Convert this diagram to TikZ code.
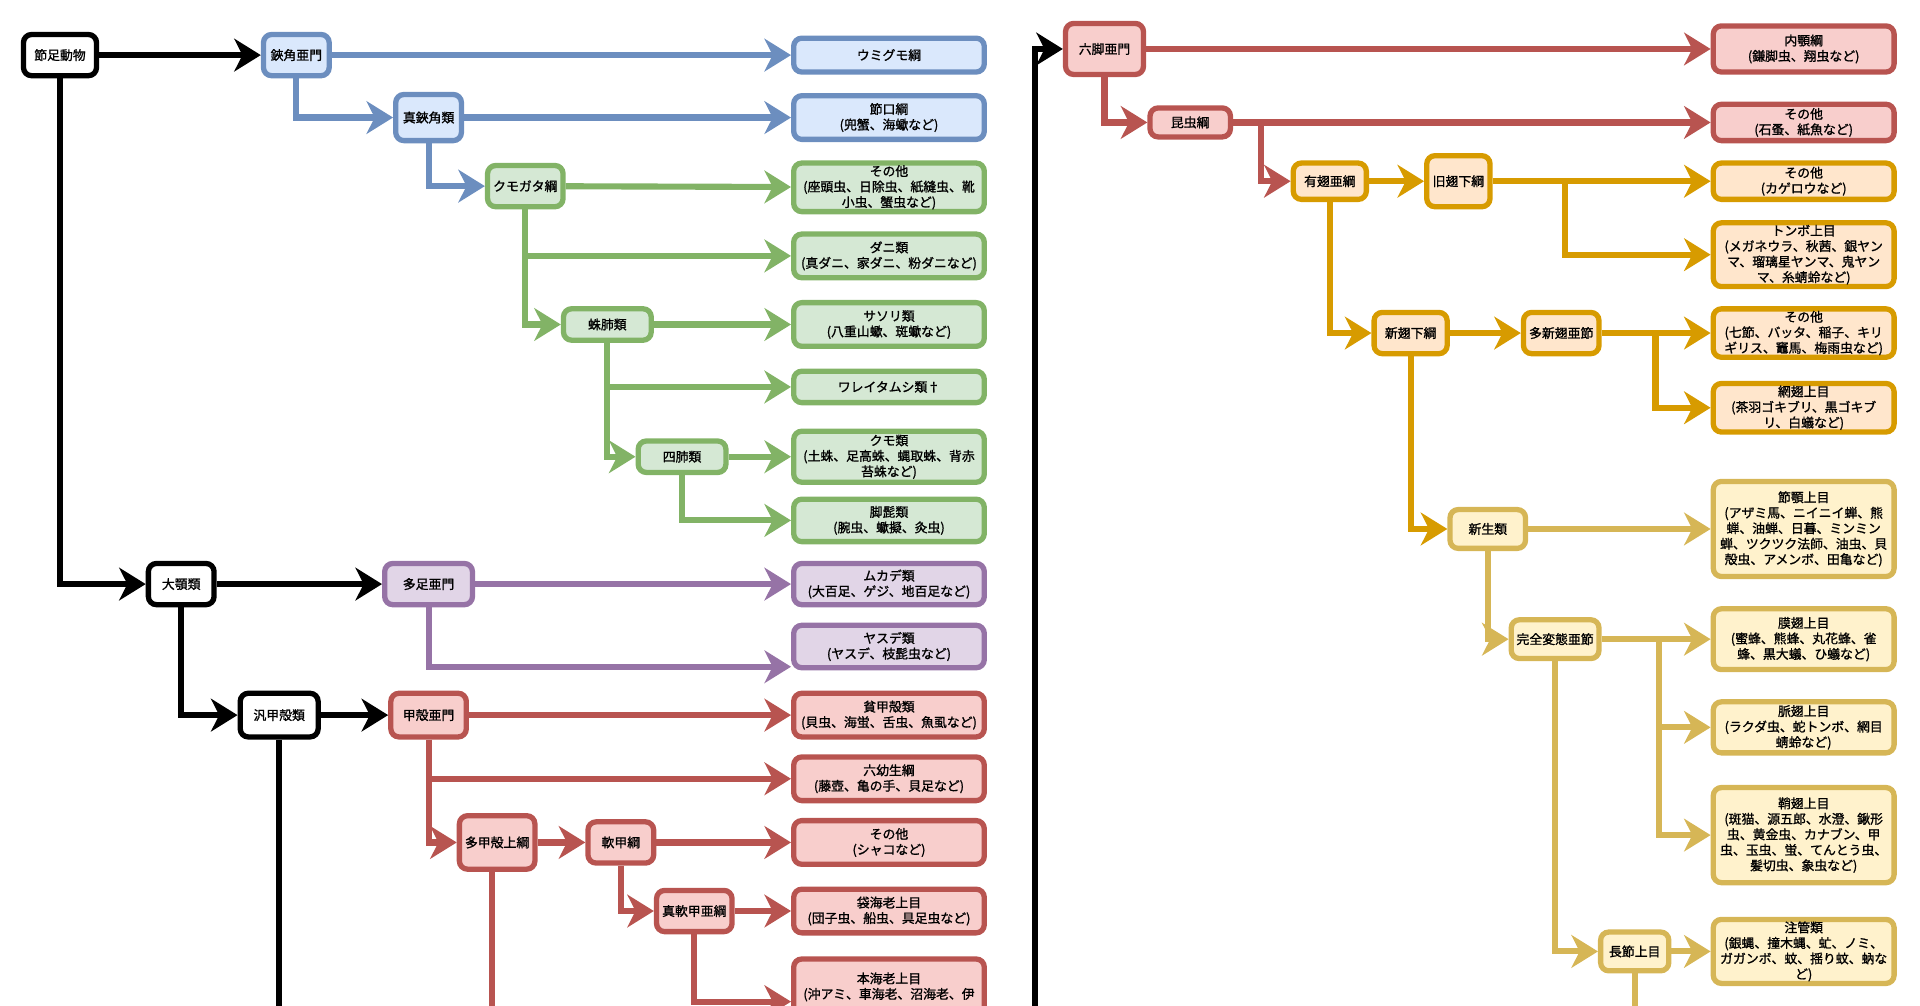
\documentclass[tikz,border=0pt]{standalone}
\usepackage{fontspec}
\setmainfont{Noto Sans CJK JP}[FakeBold=1.2]
\usetikzlibrary{arrows.meta,calc}
\definecolor{bS}{HTML}{6C8EBF}\definecolor{bF}{HTML}{DAE8FC}
\definecolor{gS}{HTML}{82B366}\definecolor{gF}{HTML}{D5E8D4}
\definecolor{pS}{HTML}{9673A6}\definecolor{pF}{HTML}{E1D5E7}
\definecolor{rS}{HTML}{B85450}\definecolor{rF}{HTML}{F8CECC}
\definecolor{oS}{HTML}{D79B00}\definecolor{oF}{HTML}{FFE6CC}
\definecolor{yS}{HTML}{D6B656}\definecolor{yF}{HTML}{FFF2CC}
\tikzset{
 box/.style={rounded corners=4pt,line width=2.6pt,align=center,font=\fontsize{6.3}{7.6}\selectfont,inner sep=1pt},
 blk/.style={box,draw=black,fill=white},
 blue/.style={box,draw=bS,fill=bF}, green/.style={box,draw=gS,fill=gF},
 purple/.style={box,draw=pS,fill=pF}, red/.style={box,draw=rS,fill=rF},
 orange/.style={box,draw=oS,fill=oF}, yellow/.style={box,draw=yS,fill=yF},
 ed/.style={line width=3pt,-{Stealth[length=13pt,width=16pt,inset=4pt]}},
 eb/.style={ed,draw=black}, ebl/.style={ed,draw=bS}, eg/.style={ed,draw=gS},
 ep/.style={ed,draw=pS}, er/.style={ed,draw=rS}, eo/.style={ed,draw=oS}, ey/.style={ed,draw=yS},
}
\newcommand\B[7]{\node[#6,minimum width=#4*0.6pt-2.6pt,minimum height=#5*0.6pt-2.6pt] (#1) at (#2,#3) {#7};}
\begin{document}
\begin{tikzpicture}[x=0.6pt,y=-0.6pt]
\useasboundingbox (0,0) rectangle (1568,821);
% left
\B{root}{49}{45}{64}{38}{blk}{節足動物}
\B{ca}{242}{45}{58}{38}{blue}{鋏角亜門}
\B{umi}{726}{45}{160}{32}{blue}{ウミグモ綱}
\B{sin}{350}{96}{58}{42}{blue}{真鋏角類}
\B{setsu}{726}{96}{160}{40}{blue}{節口綱\\(兜蟹、海蠍など)}
\B{kumo}{429}{152}{66}{38}{green}{クモガタ綱}
\B{so1}{726}{153}{160}{44}{green}{その他\\(座頭虫、日除虫、紙縫虫、靴\\小虫、蟹虫など)}
\B{dani}{726}{209}{160}{40}{green}{ダニ類\\(真ダニ、家ダニ、粉ダニなど)}
\B{chu}{496}{265}{76}{30}{green}{蛛肺類}
\B{sas}{726}{265}{160}{40}{green}{サソリ類\\(八重山蠍、斑蠍など)}
\B{wa}{726}{316}{160}{30}{green}{ワレイタムシ類†}
\B{shi}{557}{373}{76}{30}{green}{四肺類}
\B{kr}{726}{373}{160}{46}{green}{クモ類\\(土蛛、足高蛛、蝿取蛛、背赤\\苔蛛など)}
\B{kya}{726}{425}{160}{39}{green}{脚髭類\\(腕虫、蠍擬、灸虫)}
\B{dai}{148}{477}{58}{38}{blk}{大顎類}
\B{ta}{350}{477}{76}{38}{purple}{多足亜門}
\B{muka}{726}{477}{160}{38}{purple}{ムカデ類\\(大百足、ゲジ、地百足など)}
\B{yas}{726}{528}{160}{39}{purple}{ヤスデ類\\(ヤスデ、枝髭虫など)}
\B{han}{228}{584}{68}{40}{blk}{汎甲殻類}
\B{kou}{350}{584}{66}{40}{red}{甲殻亜門}
\B{hin}{726}{584}{160}{40}{red}{貧甲殻類\\(貝虫、海蛍、舌虫、魚虱など)}
\B{rk}{726}{636}{160}{40}{red}{六幼生綱\\(藤壺、亀の手、貝足など)}
\B{tak}{406}{688}{66}{48}{red}{多甲殻上綱}
\B{nan}{507}{688}{58}{38}{red}{軟甲綱}
\B{so2}{726}{688}{160}{40}{red}{その他\\(シャコなど)}
\B{snk}{567}{744}{66}{38}{red}{真軟甲亜綱}
\B{fuk}{726}{744}{160}{40}{red}{袋海老上目\\(団子虫、船虫、具足虫など)}
\node[red,anchor=north,minimum width=160*0.6pt-2.6pt,minimum height=60*0.6pt] (hon) at (726,781) {本海老上目\\(沖アミ、車海老、沼海老、伊\\\strut};
\coordinate (hanb) at (228,830); \coordinate (takb) at (402,830);
\coordinate (bot) at (845,830); \coordinate (honin) at (567,818);
% right
\B{r6}{902}{40}{68}{46}{red}{六脚亜門}
\B{nai}{1473}{40}{152}{42}{red}{内顎綱\\(鎌脚虫、翔虫など)}
\B{kon}{972}{100}{70}{28}{red}{昆虫綱}
\B{so3}{1473}{100}{152}{34}{red}{その他\\(石蚤、紙魚など)}
\B{yu}{1086}{148}{64}{34}{orange}{有翅亜綱}
\B{kyu}{1191}{148}{56}{46}{orange}{旧翅下綱}
\B{so4}{1473}{148}{152}{34}{orange}{その他\\(カゲロウなど)}
\B{ton}{1473}{208}{152}{54}{orange}{トンボ上目\\(メガネウラ、秋茜、銀ヤン\\マ、瑠璃星ヤンマ、鬼ヤン\\マ、糸蜻蛉など)}
\B{ss}{1152}{272}{64}{38}{orange}{新翅下綱}
\B{tsh}{1275}{272}{66}{38}{orange}{多新翅亜節}
\B{so5}{1473}{272}{152}{42}{orange}{その他\\(七節、バッタ、稲子、キリ\\ギリス、竈馬、梅雨虫など)}
\B{mou}{1473}{333}{152}{44}{orange}{網翅上目\\(茶羽ゴキブリ、黒ゴキブ\\リ、白蟻など)}
\B{sei}{1215}{432}{66}{36}{yellow}{新生類}
\B{sg}{1473}{432}{152}{82}{yellow}{節顎上目\\(アザミ馬、ニイニイ蝉、熊\\蝉、油蝉、日暮、ミンミン\\蝉、ツクツク法師、油虫、貝\\殻虫、アメンボ、田亀など)}
\B{kz}{1270}{522}{76}{36}{yellow}{完全変態亜節}
\B{mak}{1473}{522}{152}{54}{yellow}{膜翅上目\\(蜜蜂、熊蜂、丸花蜂、雀\\蜂、黒大蟻、ひ蟻など)}
\B{mya}{1473}{594}{152}{46}{yellow}{脈翅上目\\(ラクダ虫、蛇トンボ、網目\\蜻蛉など)}
\B{sho}{1473}{682}{152}{82}{yellow}{鞘翅上目\\(斑猫、源五郎、水澄、鍬形\\虫、黄金虫、カナブン、甲\\虫、玉虫、蛍、てんとう虫、\\髪切虫、象虫など)}
\B{cho}{1335}{777}{60}{36}{yellow}{長節上目}
\B{chk}{1473}{777}{152}{52}{yellow}{注管類\\(銀蝿、撞木蝿、虻、ノミ、\\ガガンボ、蚊、揺り蚊、蚋な\\ど)}
\coordinate (chob) at (1335,830);
% edges left
\draw[eb] (root) -- (ca);
\draw[eb] (root.south) |- (dai);
\draw[ebl] (ca) -- (umi);
\draw[ebl] (ca.south) |- (sin);
\draw[ebl] (sin) -- (setsu);
\draw[ebl] (sin.south) |- (kumo);
\draw[eg] (kumo) -- (so1);
\draw[eg] (kumo.south) |- (dani);
\draw[eg] (kumo.south) |- (chu);
\draw[eg] (chu) -- (sas);
\draw[eg] (chu.south) |- (wa);
\draw[eg] (chu.south) |- (shi);
\draw[eg] (shi) -- (kr);
\draw[eg] (shi.south) |- (kya);
\draw[eb] (dai) -- (ta);
\draw[eb] (dai.south) |- (han);
\draw[ep] (ta) -- (muka);
\draw[ep] (ta.south) |- ($(yas.south west)+(0,-3)$);
\draw[eb] (han) -- (kou);
\draw[line width=3pt] (han.south) -- (hanb);
\draw[er] (kou) -- (hin);
\draw[er] (kou.south) |- (rk);
\draw[er] (kou.south) |- (tak);
\draw[er] (tak) -- (nan);
\draw[line width=3pt,rS] (tak.south -| takb) -- (takb);
\draw[er] (nan) -- (so2);
\draw[er] (nan.south) |- (snk);
\draw[er] (snk) -- (fuk);
\draw[er] (snk.south) |- (honin -| hon.west);
% edges right
\draw[eb] (bot) |- (r6);
\draw[er] (r6) -- (nai);
\draw[er] (r6.south) |- (kon);
\draw[er] (kon) -- (so3);
\draw[er] (1030,100) |- (yu);
\draw[eo] (yu) -- (kyu);
\draw[eo] (kyu) -- (so4);
\draw[eo] (1278,148) |- (ton);
\draw[eo] (yu.south) |- (ss);
\draw[eo] (ss) -- (tsh);
\draw[eo] (tsh) -- (so5);
\draw[eo] (1352,272) |- (mou);
\draw[eo] (ss.south) |- (sei);
\draw[ey] (sei) -- (sg);
\draw[ey] (sei.south) |- (kz);
\draw[ey] (kz) -- (mak);
\draw[ey] (1355,522) |- (mya);
\draw[ey] (1355,522) |- (sho);
\draw[ey] (kz.south) |- (cho);
\draw[ey] (cho) -- (chk);
\draw[line width=3pt,yS] (cho.south) -- (chob);
\end{tikzpicture}
\end{document}
